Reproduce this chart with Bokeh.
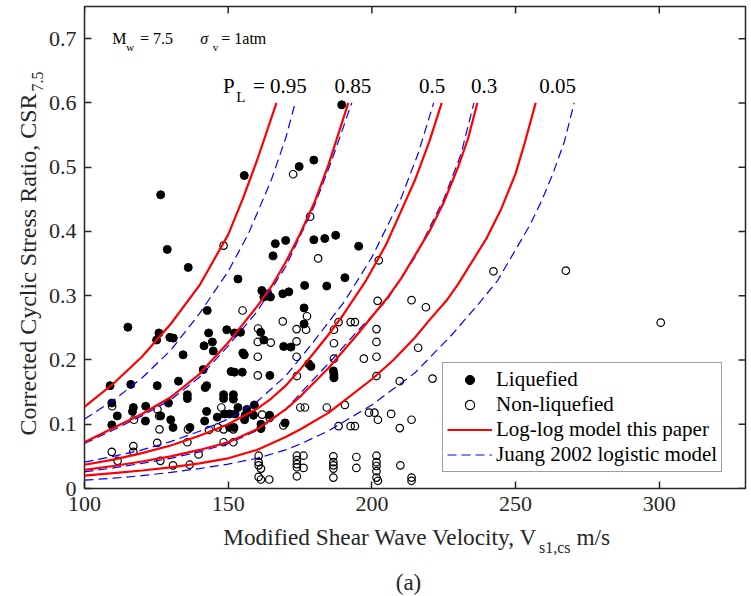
import numpy as np
from bokeh.plotting import figure
from bokeh.layouts import column, row
from bokeh.models import Label, Legend, LegendItem, FixedTicker
from bokeh.embed import file_html
from bokeh.resources import INLINE

# ---------------- data ----------------
liq_vs = [126.5, 155.6, 128.8, 136.1, 153.4, 174.7, 179.8, 166.4, 170.0, 165.6,
          179.8, 183.6, 161.7, 163.8, 162.4, 164.7, 169.0, 171.1, 176.6, 184.3,
          189.5, 187.4, 195.4, 190.6, 142.7, 115.1, 125.9, 125.1, 129.7, 130.9,
          134.3, 143.2, 141.6, 144.5, 144.8, 149.5, 152.2, 154.3, 161.3, 162.4,
          155.1, 155.6, 169.3, 171.8, 176.4, 176.4, 178.0, 178.8, 141.3, 151.0,
          152.2, 154.9, 164.5, 108.9, 116.1, 125.3, 132.7, 142.5, 142.0, 135.8,
          135.8, 129.2, 148.4, 148.4, 151.8, 151.8, 109.5, 117.0, 116.7, 121.3,
          111.4, 126.5, 121.2, 130.0, 130.8, 109.5, 136.7, 142.5, 146.2, 141.8,
          148.7, 150.5, 152.4, 153.4, 156.5, 155.9, 159.1, 158.8, 161.4, 161.4,
          164.4, 169.8, 150.5, 152.0, 186.6, 186.8, 186.8, 155.7]
liq_csr = [0.457, 0.487, 0.372, 0.344, 0.326, 0.501, 0.511, 0.381, 0.386, 0.362,
           0.387, 0.389, 0.308, 0.303, 0.298, 0.298, 0.303, 0.306, 0.316, 0.315,
           0.597, 0.394, 0.377, 0.328, 0.277, 0.251, 0.242, 0.231, 0.235, 0.234,
           0.208, 0.242, 0.222, 0.228, 0.214, 0.247, 0.242, 0.243, 0.243, 0.231,
           0.211, 0.208, 0.221, 0.220, 0.281, 0.256, 0.194, 0.190, 0.185, 0.182,
           0.181, 0.181, 0.176, 0.160, 0.162, 0.160, 0.167, 0.160, 0.157, 0.146,
           0.140, 0.133, 0.146, 0.140, 0.146, 0.139, 0.133, 0.126, 0.120, 0.128,
           0.113, 0.113, 0.105, 0.107, 0.095, 0.099, 0.095, 0.120, 0.111, 0.105,
           0.116, 0.116, 0.116, 0.126, 0.123, 0.114, 0.130, 0.114, 0.100, 0.094,
           0.114, 0.102, 0.095, 0.095, 0.183, 0.177, 0.173, 0.107]

non_vs = [172.6, 148.4, 178.5, 181.3, 202.4, 242.3, 267.5, 300.5, 202.0, 213.8,
          218.8, 155.0, 160.4, 169.0, 173.8, 177.1, 177.4, 160.3, 164.8, 173.8,
          173.8, 160.3, 160.3, 173.9, 109.6, 117.2, 125.4, 126.0, 126.1, 125.3,
          136.0, 135.8, 143.3, 146.4, 148.4, 151.8, 148.4, 151.8, 147.6, 161.8,
          164.4, 161.4, 169.2, 175.1, 176.7, 184.3, 109.5, 117.0, 117.0, 111.5,
          126.4, 130.8, 136.6, 139.7, 160.6, 160.6, 160.6, 161.4, 160.6, 161.4,
          164.3, 173.9, 173.9, 173.9, 173.9, 173.9, 176.2, 176.2, 188.4, 192.6,
          194.1, 186.8, 201.6, 186.8, 201.6, 201.6, 197.2, 186.8, 216.1, 201.6,
          186.8, 209.7, 221.1, 190.6, 199.0, 200.9, 202.1, 206.7, 213.8, 209.7,
          188.4, 192.6, 194.1, 186.6, 186.6, 186.6, 186.6, 186.6, 194.6, 194.6,
          201.6, 201.6, 201.6, 201.6, 201.6, 202.1, 209.9, 213.8, 213.8]
non_csr = [0.489, 0.378, 0.423, 0.358, 0.355, 0.338, 0.339, 0.258, 0.292, 0.293,
           0.282, 0.277, 0.249, 0.260, 0.248, 0.247, 0.268, 0.228, 0.227, 0.229,
           0.205, 0.205, 0.176, 0.175, 0.128, 0.107, 0.123, 0.113, 0.092, 0.071,
           0.092, 0.072, 0.091, 0.095, 0.092, 0.092, 0.072, 0.072, 0.126, 0.115,
           0.110, 0.093, 0.098, 0.126, 0.126, 0.126, 0.057, 0.066, 0.057, 0.043,
           0.043, 0.036, 0.037, 0.053, 0.051, 0.041, 0.036, 0.031, 0.018, 0.014,
           0.014, 0.051, 0.044, 0.038, 0.033, 0.019, 0.051, 0.032, 0.259, 0.259,
           0.259, 0.247, 0.248, 0.226, 0.228, 0.205, 0.202, 0.202, 0.219, 0.175,
           0.172, 0.167, 0.171, 0.130, 0.118, 0.118, 0.107, 0.116, 0.107, 0.094,
           0.097, 0.097, 0.097, 0.050, 0.041, 0.036, 0.031, 0.017, 0.049, 0.032,
           0.051, 0.041, 0.035, 0.027, 0.017, 0.012, 0.036, 0.017, 0.012]

# Log-log model (this paper) curves, P_L = 0.95, 0.85, 0.5, 0.3, 0.05
loglog_095_vs = [100, 110, 120, 130, 140, 150, 155, 160, 166.8]
loglog_095_csr = [0.127, 0.163, 0.205, 0.256, 0.316, 0.395, 0.45, 0.51, 0.60]
loglog_085_vs = [100, 110, 120, 130, 140, 150, 160, 165, 170, 175, 180, 185, 191.8]
loglog_085_csr = [0.072, 0.094, 0.116, 0.142, 0.178, 0.227, 0.283, 0.314, 0.352, 0.396, 0.445, 0.505, 0.60]
loglog_05_vs = [100, 110, 120, 130, 140, 150, 160, 165, 170, 175, 180, 185, 190, 198, 205, 210, 215, 220, 224.3]
loglog_05_csr = [0.037, 0.045, 0.055, 0.067, 0.082, 0.100, 0.124, 0.14, 0.16, 0.185, 0.212, 0.24, 0.27, 0.324, 0.38, 0.43, 0.48, 0.54, 0.60]
loglog_03_vs = [100, 110, 120, 130, 140, 150, 160, 170, 175.5, 185, 195, 205.6, 210.2, 220, 225, 230, 233.5, 236.7]
loglog_03_csr = [0.029, 0.035, 0.042, 0.05, 0.06, 0.072, 0.092, 0.123, 0.145, 0.188, 0.24, 0.298, 0.327, 0.40, 0.445, 0.50, 0.545, 0.60]
loglog_005_vs = [100, 110, 120, 130, 140, 150, 160, 170, 175.5, 185, 200, 207.5, 215, 220, 225.9, 230, 240, 245, 250, 253, 257]
loglog_005_csr = [0.020, 0.024, 0.028, 0.033, 0.039, 0.047, 0.06, 0.08, 0.093, 0.118, 0.17, 0.2, 0.235, 0.262, 0.292, 0.318, 0.39, 0.435, 0.49, 0.535, 0.60]

# Juang 2002 logistic model curves
juang_095_vs = [100, 110, 120, 130, 140, 150, 157, 165, 170, 173.3]
juang_095_csr = [0.108, 0.137, 0.172, 0.215, 0.272, 0.338, 0.396, 0.48, 0.545, 0.60]
juang_085_vs = [100, 110, 120, 130, 140, 150, 160, 170, 180, 186, 193]
juang_085_csr = [0.070, 0.091, 0.113, 0.138, 0.173, 0.222, 0.275, 0.345, 0.44, 0.51, 0.60]
juang_05_vs = [100, 110, 120, 130, 140, 150, 160, 170, 175.5, 180, 190.6, 200, 210, 216, 221.5]
juang_05_csr = [0.041, 0.05, 0.06, 0.073, 0.089, 0.108, 0.135, 0.175, 0.205, 0.23, 0.292, 0.36, 0.45, 0.52, 0.60]
juang_03_vs = [100, 110, 120, 130, 140, 150, 160, 170, 175.5, 185, 195, 205, 215, 225, 231, 235.5]
juang_03_csr = [0.026, 0.032, 0.039, 0.047, 0.057, 0.07, 0.09, 0.123, 0.15, 0.195, 0.245, 0.292, 0.36, 0.45, 0.52, 0.60]
juang_005_vs = [100, 110, 120, 130, 140, 150, 160, 170, 175.5, 185, 200, 215, 228, 238, 243.8, 255, 259, 263, 267, 270.4]
juang_005_csr = [0.013, 0.016, 0.02, 0.025, 0.031, 0.038, 0.047, 0.06, 0.07, 0.09, 0.13, 0.18, 0.24, 0.292, 0.324, 0.41, 0.447, 0.49, 0.54, 0.60]

x_ticks = [100, 150, 200, 250, 300]
y_ticks = [0, 0.1, 0.2, 0.3, 0.4, 0.5, 0.6, 0.7]
y_tick_labels = ["0", "0.1", "0.2", "0.3", "0.4", "0.5", "0.6", "0.7"]

# ---------------- layout (page pixels) ----------------
XMIN, XMAX, YMIN, YMAX = 100, 330, 0, 0.75
FL, FR, FT, FB = 83, 745, 6, 488   # plot frame on the page
W, H = 751, 596
LEFT_W = 45                         # strip holding the y-axis title
TOP_H = 522                         # height of the upper row
XL_SHIFT = 6.5                      # observed downward offset of the bottom strip

SERIF = "Liberation Serif"
AX = "#262626"


def dx(px):
    return XMIN + (px - FL) * (XMAX - XMIN) / (FR - FL)


def dy(py):
    return YMAX - (py - FT) * (YMAX - YMIN) / (FB - FT)


p = figure(width=W - LEFT_W, height=TOP_H, x_range=(XMIN, XMAX), y_range=(YMIN, YMAX),
           output_backend="svg", toolbar_location=None,
           min_border_left=FL - LEFT_W, min_border_right=W - FR,
           min_border_top=FT, min_border_bottom=TOP_H - FB,
           background_fill_color="white", border_fill_color="white")
p.grid.visible = False
p.outline_line_color = AX
p.outline_line_width = 1.5

for ax in (p.xaxis, p.yaxis):
    ax.axis_line_color = None
    ax.major_tick_in = 7
    ax.major_tick_out = 0
    ax.major_tick_line_width = 1.5
    ax.major_tick_line_color = AX
    ax.minor_tick_line_color = None
    ax.major_label_text_font = SERIF
    ax.major_label_text_font_size = "22px"
    ax.major_label_text_color = AX
p.xaxis.ticker = FixedTicker(ticks=x_ticks)
p.yaxis.ticker = FixedTicker(ticks=y_ticks)
p.yaxis.major_label_overrides = {t: s for t, s in zip(y_ticks, y_tick_labels)}
p.xaxis.major_label_standoff = 8
p.yaxis.major_label_standoff = 8

# mirrored ticks on top and right
tl_y = 7 * (YMAX - YMIN) / (FB - FT)
tl_x = 7 * (XMAX - XMIN) / (FR - FL)
p.segment(x0=x_ticks, y0=[YMAX] * len(x_ticks), x1=x_ticks, y1=[YMAX - tl_y] * len(x_ticks),
          line_color=AX, line_width=1.5)
p.segment(x0=[XMAX] * len(y_ticks), y0=y_ticks, x1=[XMAX - tl_x] * len(y_ticks), y1=y_ticks,
          line_color=AX, line_width=1.5)

# points
r_liq = p.scatter(liq_vs, liq_csr, size=8, marker="circle", fill_color="black", line_color="black")
r_non = p.scatter(non_vs, non_csr, size=7.5, marker="circle", fill_alpha=0, line_color="black", line_width=1.2)

# curves
red_sets = [(loglog_095_vs, loglog_095_csr), (loglog_085_vs, loglog_085_csr), (loglog_05_vs, loglog_05_csr),
            (loglog_03_vs, loglog_03_csr), (loglog_005_vs, loglog_005_csr)]
blue_sets = [(juang_095_vs, juang_095_csr), (juang_085_vs, juang_085_csr), (juang_05_vs, juang_05_csr),
             (juang_03_vs, juang_03_csr), (juang_005_vs, juang_005_csr)]
r_red = None
r_blue = None
for xs, ys in blue_sets:
    r = p.line(xs, ys, line_color="#0000FF", line_width=1.2, line_dash="9 5")
    r_blue = r_blue or r
for xs, ys in red_sets:
    r = p.line(xs, ys, line_color="#FF0000", line_width=2.2)
    r_red = r_red or r

legend = Legend(items=[LegendItem(label="Liquefied", renderers=[r_liq]),
                       LegendItem(label="Non-liquefied", renderers=[r_non]),
                       LegendItem(label="Log-log model this paper", renderers=[r_red]),
                       LegendItem(label="Juang 2002 logistic model", renderers=[r_blue])],
                location=(441 - FL, FB - 472), orientation="vertical",
                label_text_font=SERIF, label_text_font_size="21px", label_text_color="black",
                glyph_width=45, glyph_height=23, label_height=23, label_standoff=4,
                spacing=0, padding=4, margin=0,
                border_line_color="#404040", border_line_width=1,
                background_fill_color="white", background_fill_alpha=1)
p.add_layout(legend, "center")


def lab(fig, x, y, text, size, **kw):
    opts = dict(text_font=SERIF, text_font_size=f"{size}px", text_color="black",
                text_baseline="alphabetic", text_align="left")
    opts.update(kw)
    fig.add_layout(Label(x=x, y=y, text=text, **opts))


def plab(px, py, text, size, **kw):
    lab(p, dx(px), dy(py), text, size, **kw)


# in-plot annotations
plab(110.7, 38.3, "M", 16)
plab(124.8, 46.5, "w", 11)
plab(138.5, 38.3, "= 7.5", 16)
plab(199.0, 38.3, "\u03c3", 16, text_font_style="italic")
plab(211.5, 46.5, "v", 11)
plab(220.0, 38.3, "= 1atm", 16)

plab(221.7, 85, "P", 21)
plab(235.0, 96.7, "L", 15)
plab(251.7, 85, "= 0.95", 21)
plab(333.3, 85, "0.85", 21)
plab(418.0, 85, "0.5", 21)
plab(470.0, 85, "0.3", 21)
plab(538.5, 85, "0.05", 21)


def strip(width, height, y_range):
    f = figure(width=width, height=height, x_range=(0, width), y_range=y_range,
               output_backend="svg", toolbar_location=None,
               x_axis_location=None, y_axis_location=None, min_border=0,
               outline_line_color=None, background_fill_color="white", border_fill_color="white")
    f.grid.visible = False
    return f


# y-axis title strip: its frame lines up with the plot frame, so it shares the y range
yl = strip(LEFT_W, TOP_H, p.y_range)
lab(yl, 27.0, dy(93.0), "Corrected Cyclic Stress Ratio, CSR", 24, text_color=AX,
    angle=np.pi / 2, text_align="right")
lab(yl, 36.5, dy(91.0), "7.5", 16, text_color=AX, angle=np.pi / 2)

# x-axis title strip (y measured upward from the strip bottom, in page px)
BH = H - TOP_H
xl = strip(W, BH, (0, BH))


def xlab(px, py, text, size, **kw):
    lab(xl, px, H - (py - XL_SHIFT), text, size, text_color=AX, **kw)


xlab(537.0, 542.7, "Modified Shear Wave Velocity, V", 23.3, text_align="right")
xlab(538.5, 553.0, "s1,cs", 16)
xlab(576.0, 542.7, "m/s", 23.3)
xlab(408.0, 588.5, "(a)", 23, text_align="center")

layout = column(row(yl, p, spacing=0), xl, spacing=0)
open("out.html", "w").write(file_html(layout, INLINE))
